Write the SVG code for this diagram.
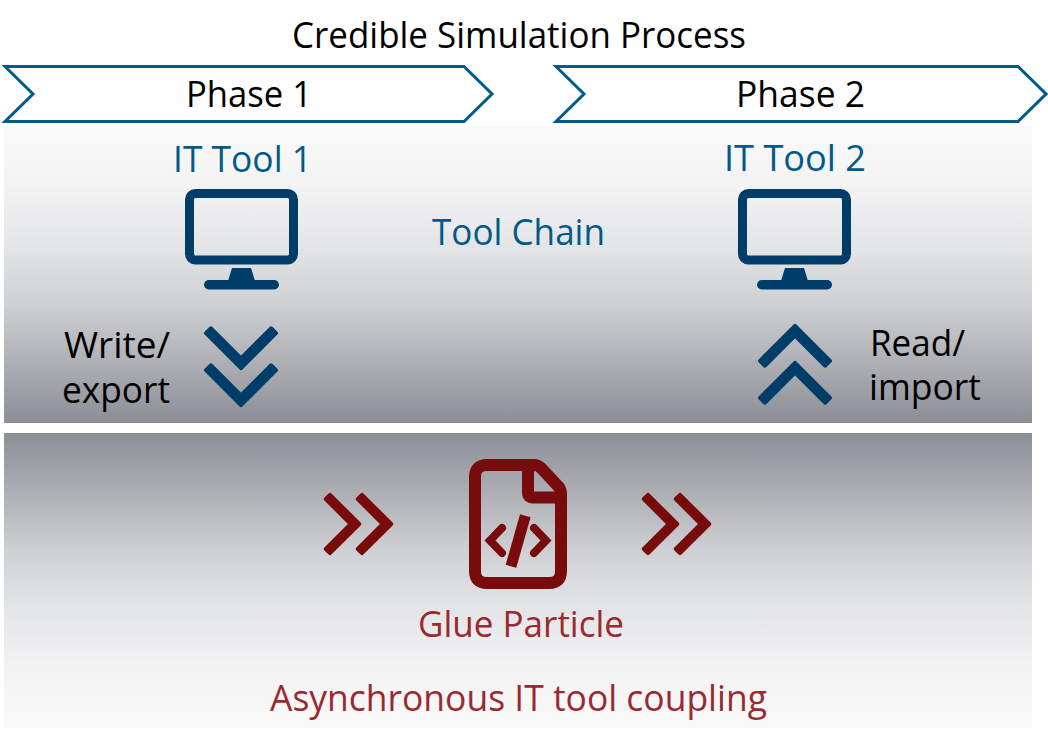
<svg xmlns="http://www.w3.org/2000/svg" width="1048" height="743" viewBox="0 0 1048 743">
<style>
text{font-family:"Open Sans","Noto Sans","Liberation Sans",sans-serif;font-size:37px;font-weight:400}
.k{fill:#000}.b{fill:#005a8a}.r{fill:#9b2a30}
.ph{fill:#fff;stroke:#005a8a;stroke-width:3}
.ic{fill:#003d69;stroke:#003d69;stroke-width:4;stroke-linejoin:round}
.rc{fill:#780c0c;stroke:#780c0c;stroke-width:4;stroke-linejoin:round}
</style>
<defs>
<linearGradient id="down" x1="0" y1="0" x2="0" y2="1"><stop offset="0" stop-color="#f9f9fa"/><stop offset=".2" stop-color="#f3f3f4"/><stop offset=".4" stop-color="#e4e5e7"/><stop offset=".6" stop-color="#cfd0d3"/><stop offset="1" stop-color="#8b8e95"/></linearGradient>
<linearGradient id="up" x1="0" y1="1" x2="0" y2="0"><stop offset="0" stop-color="#f9f9fa"/><stop offset=".2" stop-color="#f3f3f4"/><stop offset=".4" stop-color="#e4e5e7"/><stop offset=".6" stop-color="#cfd0d3"/><stop offset="1" stop-color="#8b8e95"/></linearGradient>
<g id="monitor">
<rect x="189.500" y="193.500" width="104" height="66.500" rx="6" fill="none" stroke="#003d69" stroke-width="9"/>
<path d="M232 268H251L255 281H228Z" fill="#003d69"/>
<rect x="204" y="280" width="75" height="9.500" rx="4.750" fill="#003d69"/>
</g>
<path id="upc" d="M795 325.800L830 360.800L825 365.700L795 335.700L765 365.700L760 360.800Z"/>
<path id="rch" d="M330 494.800L359.200 524L330 553.200L325.800 549L350.800 524L325.800 499Z"/>
</defs>
<text id="title" class="k" x="292" y="48" textLength="454" lengthAdjust="spacingAndGlyphs">Credible Simulation Process</text>
<g id="phase1"><path class="ph" d="M5 66.500H464L492 94L464 121.500H5L33 94Z"/>
<text class="k" x="186" y="107" textLength="126" lengthAdjust="spacingAndGlyphs">Phase 1</text></g>
<g id="phase2"><path class="ph" d="M556 66.500H1018L1046 94L1018 121.500H556L584 94Z"/>
<text class="k" x="736" y="107" textLength="129" lengthAdjust="spacingAndGlyphs">Phase 2</text></g>
<g id="toolchain"><rect x="4" y="126" width="1028" height="297" fill="url(#down)"/>
<text class="b" x="432" y="245" textLength="173" lengthAdjust="spacingAndGlyphs">Tool Chain</text></g>
<g id="tool1"><text class="b" x="173" y="172" textLength="139" lengthAdjust="spacingAndGlyphs">IT Tool 1</text><use href="#monitor"/></g>
<g id="tool2"><text class="b" x="724" y="171" textLength="142" lengthAdjust="spacingAndGlyphs">IT Tool 2</text><use href="#monitor" x="553"/></g>
<g id="write"><text class="k" x="64" y="358" textLength="106" lengthAdjust="spacingAndGlyphs">Write/</text>
<text class="k" x="62" y="403" textLength="108" lengthAdjust="spacingAndGlyphs">export</text>
<g class="ic"><use href="#upc" transform="translate(-554 694) scale(1 -1)"/><use href="#upc" transform="translate(-554 731) scale(1 -1)"/></g></g>
<g id="read"><text class="k" x="870" y="356" textLength="95" lengthAdjust="spacingAndGlyphs">Read/</text>
<text class="k" x="869" y="400" textLength="112" lengthAdjust="spacingAndGlyphs">import</text>
<g class="ic"><use href="#upc"/><use href="#upc" y="37"/></g></g>
<g id="coupling"><rect x="4" y="433" width="1028" height="295" fill="url(#up)"/>
<text class="r" x="270" y="711" textLength="497" lengthAdjust="spacingAndGlyphs">Asynchronous IT tool coupling</text></g>
<g id="glue"><text class="r" x="418" y="637" textLength="206" lengthAdjust="spacingAndGlyphs">Glue Particle</text>
<path d="M475 477Q475 465 487 465H534Q538 465 541 468L558 486Q561 489 561 494V571Q561 583 549 583H487Q475 583 475 571Z" fill="none" stroke="#780c0c" stroke-width="12"/>
<path d="M528 466V492.500Q528 497.500 533 497.500H561" fill="none" stroke="#780c0c" stroke-width="12"/>
<path d="M502 528L490 540.500L502 553M534 528L546 540.500L534 553" fill="none" stroke="#780c0c" stroke-width="8" stroke-linecap="round"/>
<path d="M525.300 515.700L511 566.300" fill="none" stroke="#780c0c" stroke-width="11"/></g>
<g id="connectors" class="rc">
<use href="#rch"/><use href="#rch" x="32"/><use href="#rch" x="318"/><use href="#rch" x="350"/>
</g>
</svg>
